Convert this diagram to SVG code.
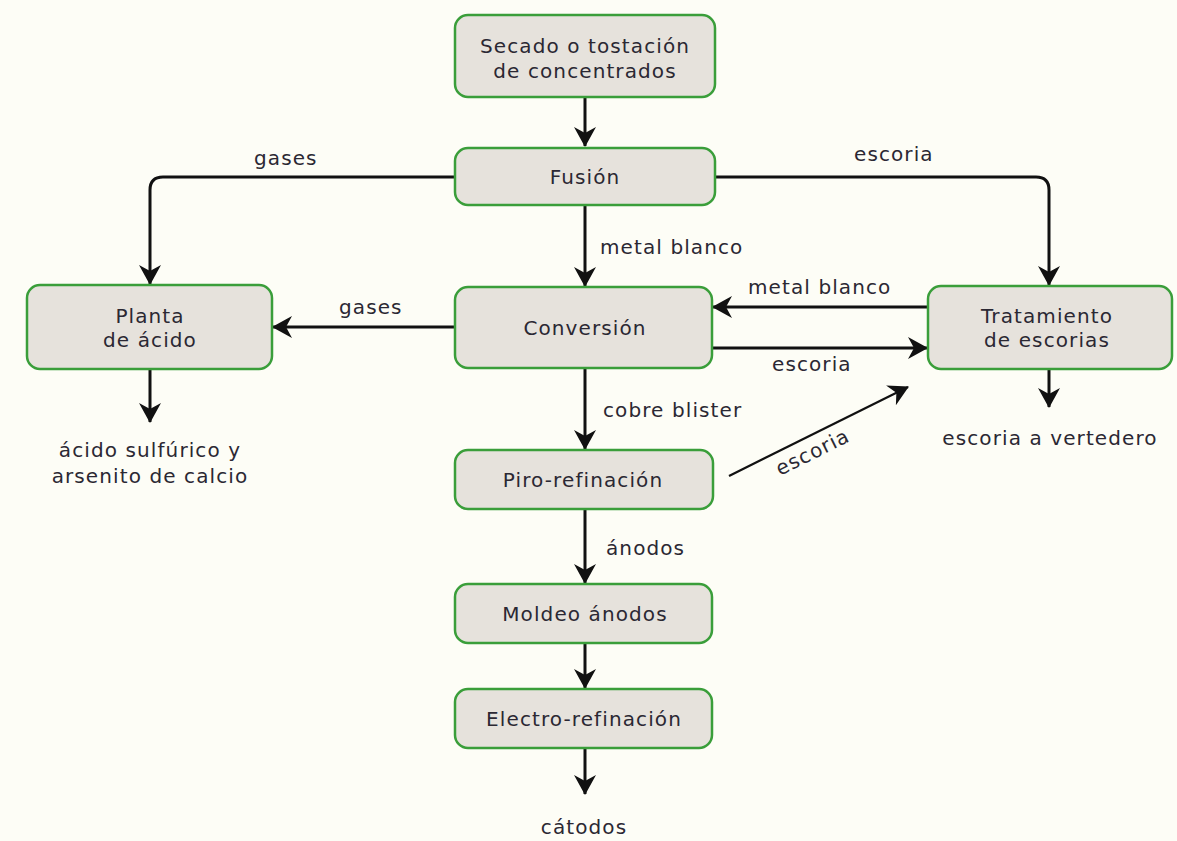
<svg xmlns="http://www.w3.org/2000/svg" width="1177" height="841" viewBox="0 0 1177 841">
<defs>
<style>
.node rect{fill:#e6e2dc;stroke:#3a9e3a;stroke-width:2.5}
text{font-family:"DejaVu Sans","Verdana",sans-serif;font-size:20px;letter-spacing:1.1px;fill:#2b2833}
.c text{text-anchor:start}
.n text{text-anchor:middle}
.e{fill:none;stroke:#111;stroke-width:3}
.d{fill:none;stroke:#111;stroke-width:2.2}
</style>
<marker id="ah" markerUnits="userSpaceOnUse" markerWidth="24" markerHeight="24" refX="19" refY="12" orient="auto" viewBox="0 0 24 24">
<path d="M0,1 L20,12 L0,23 L6,12 z" fill="#111"/>
</marker>
</defs>
<rect width="1177" height="841" fill="#fdfdf6"/>

<g id="connectors">
<path class="e" d="M585,98 V146" marker-end="url(#ah)"/>
<path class="e" d="M585,205 V286" marker-end="url(#ah)"/>
<path class="e" d="M585,368 V449" marker-end="url(#ah)"/>
<path class="e" d="M585,509 V583" marker-end="url(#ah)"/>
<path class="e" d="M585,643 V688" marker-end="url(#ah)"/>
<path class="e" d="M585,748 V794" marker-end="url(#ah)"/>
<path class="e" d="M455,177 H163 Q150,177 150,190 V284" marker-end="url(#ah)"/>
<path class="e" d="M715,177 H1036 Q1049,177 1049,190 V285" marker-end="url(#ah)"/>
<path class="e" d="M455,327 H273" marker-end="url(#ah)"/>
<path class="e" d="M928,307 H713" marker-end="url(#ah)"/>
<path class="e" d="M713,348 H927" marker-end="url(#ah)"/>
<path class="e" d="M150,369 V422" marker-end="url(#ah)"/>
<path class="e" d="M1049,369 V407" marker-end="url(#ah)"/>
<path class="d" d="M729,476 L908,387" marker-end="url(#ah)"/>
</g>

<g id="labels" class="c">
<text x="254" y="165">gases</text>
<text x="854" y="161">escoria</text>
<text x="600" y="254">metal blanco</text>
<text x="339" y="314">gases</text>
<text x="748" y="294">metal blanco</text>
<text x="772" y="371">escoria</text>
<text x="603" y="417">cobre blister</text>
<text x="606" y="555">ánodos</text>
<text x="780" y="476" transform="rotate(-26.5 780 476)">escoria</text>
<text x="150" y="457" style="text-anchor:middle">ácido sulfúrico y</text>
<text x="150" y="483" style="text-anchor:middle">arsenito de calcio</text>
<text x="1050" y="445" style="text-anchor:middle">escoria a vertedero</text>
<text x="584" y="834" style="text-anchor:middle">cátodos</text>
</g>

<g id="secado" class="node n"><rect x="455" y="15" width="260" height="82" rx="13"/><text x="585" y="53">Secado o tostación</text><text x="585" y="78">de concentrados</text></g>
<g id="fusion" class="node n"><rect x="455" y="148" width="260" height="57" rx="13"/><text x="585" y="184">Fusión</text></g>
<g id="conversion" class="node n"><rect x="455" y="287" width="257" height="81" rx="13"/><text x="585" y="335">Conversión</text></g>
<g id="planta" class="node n"><rect x="27" y="285" width="245" height="84" rx="13"/><text x="150" y="323">Planta</text><text x="150" y="347">de ácido</text></g>
<g id="tratamiento" class="node n"><rect x="928" y="286" width="244" height="83" rx="13"/><text x="1047" y="323">Tratamiento</text><text x="1047" y="347">de escorias</text></g>
<g id="piro" class="node n"><rect x="455" y="450" width="258" height="59" rx="13"/><text x="583" y="487">Piro-refinación</text></g>
<g id="moldeo" class="node n"><rect x="455" y="584" width="257" height="59" rx="13"/><text x="585" y="621">Moldeo ánodos</text></g>
<g id="electro" class="node n"><rect x="455" y="689" width="257" height="59" rx="13"/><text x="584" y="726">Electro-refinación</text></g>
</svg>
